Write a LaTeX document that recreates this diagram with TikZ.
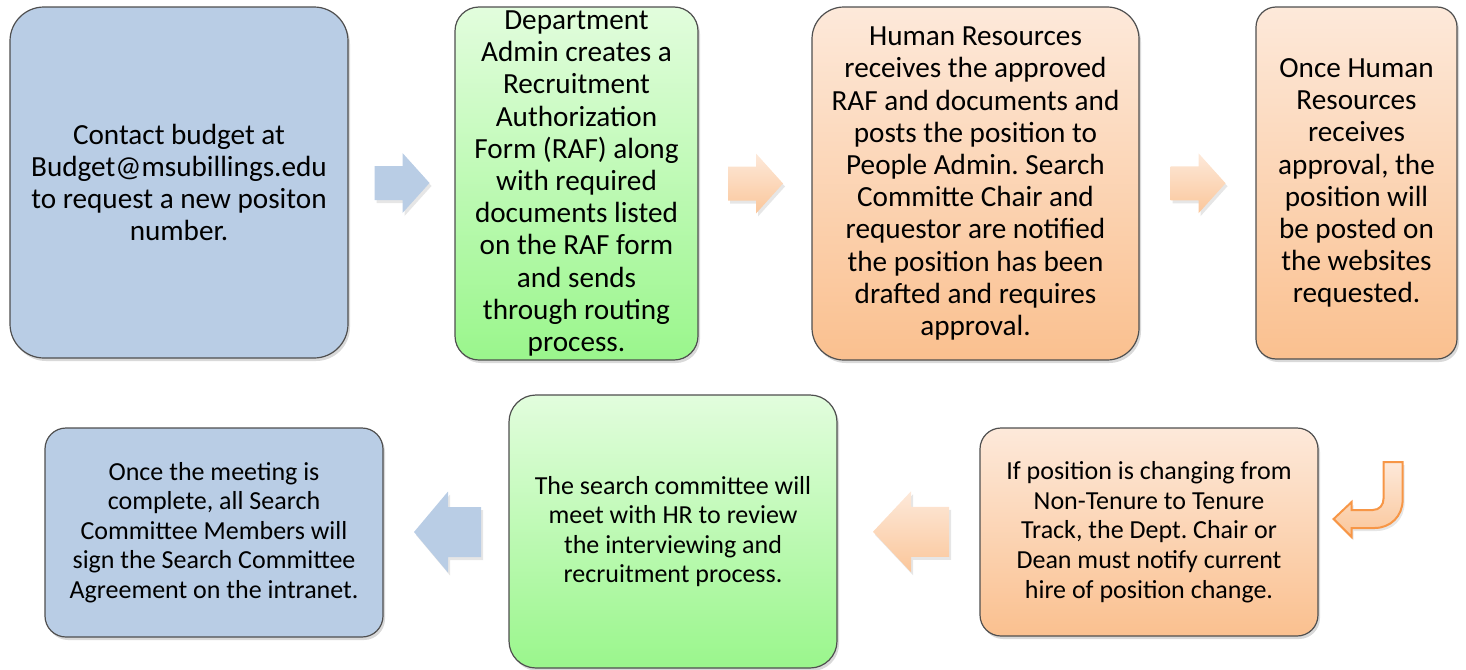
\documentclass[tikz,border=0pt]{standalone}
\usepackage{fontspec}
\setmainfont{Carlito}
\usepackage{tikz}
\usetikzlibrary{calc, shadows}
\usepackage{xcolor}
\frenchspacing

\definecolor{boxblue}{HTML}{B9CDE5}
\definecolor{boxline}{HTML}{4F4F4F}
\definecolor{greentop}{HTML}{E2FDDD}
\definecolor{greenbot}{HTML}{9AF68C}
\definecolor{orangetop}{HTML}{FDE9DA}
\definecolor{orangebot}{HTML}{FAC08F}
\definecolor{arrowline}{HTML}{F79646}

\tikzset{
  stepbox/.style={draw=boxline, line width=0.6pt, align=center, inner sep=0pt,
    drop shadow={opacity=0.3, shadow xshift=1pt, shadow yshift=-1.5pt}},
  toprow/.style={stepbox, font=\fontsize{14.6}{16.1}\selectfont},
  lowrow/.style={stepbox, font=\fontsize{13}{14.8}\selectfont},
  bluebox/.style={fill=boxblue},
  greenbox/.style={top color=greentop, bottom color=greenbot},
  orangebox/.style={top color=orangetop, bottom color=orangebot},
  bluearrow/.style={fill=boxblue, drop shadow={opacity=0.2, shadow xshift=1pt, shadow yshift=-1.5pt}},
  orangearrow/.style={top color=orangetop, bottom color=orangebot!90, drop shadow={opacity=0.2, shadow xshift=1pt, shadow yshift=-1.5pt}}
}

\begin{document}
\begin{tikzpicture}[x=0.5pt, y=-0.5pt]
\useasboundingbox (0,0) rectangle (1466,669);

% top row
\node[toprow, bluebox, minimum width=169pt, minimum height=175.5pt, rounded corners=17pt] (budget) at (179,182.5)
  {Contact budget at\\Budget@msubillings.edu\\to request a new positon\\number.};
\node[toprow, greenbox, minimum width=121.5pt, minimum height=176.5pt, rounded corners=12pt] (raf) at (576.5,183.5)
  {Department\\Admin creates a\\Recruitment\\Authorization\\Form (RAF) along\\with required\\documents listed\\on the RAF form\\and sends\\through routing\\process.};
\node[toprow, orangebox, minimum width=163.5pt, minimum height=176.5pt, rounded corners=16pt] (hrpost) at (975.5,183.5)
  {Human Resources\\receives the approved\\RAF and documents and\\posts the position to\\People Admin. Search\\Committe Chair and\\requestor are notified\\the position has been\\drafted and requires\\approval.};
\node[toprow, orangebox, minimum width=100.5pt, minimum height=176pt, rounded corners=10pt] (website) at (1356.5,183)
  {Once Human\\Resources\\receives\\approval, the\\position will\\be posted on\\the websites\\requested.};

% bottom row
\node[lowrow, orangebox, minimum width=169pt, minimum height=104pt, rounded corners=10.5pt] (tenure) at (1149,532)
  {If position is changing from\\Non-Tenure to Tenure\\Track, the Dept. Chair or\\Dean must notify current\\hire of position change.};
\node[lowrow, greenbox, minimum width=164pt, minimum height=136.5pt, rounded corners=13.5pt] (meeting) at (673,531.5)
  {The search committee will\\meet with HR to review\\the interviewing and\\recruitment process.};
\node[lowrow, bluebox, minimum width=169pt, minimum height=104.5pt, rounded corners=10.5pt] (signoff) at (214,532.5)
  {Once the meeting is\\complete, all Search\\Committee Members will\\sign the Search Committee\\Agreement on the intranet.};

% block arrows
\begin{scope}[shift={($(budget.east)!0.5!(raf.west)$)}]
  \path[bluearrow] (-27,-17) -- ++(28,0) -- ++(0,-13) -- ++(27,30) -- ++(-27,30) -- ++(0,-13) -- ++(-28,0) -- cycle;
\end{scope}
\begin{scope}[shift={($(raf.east)!0.5!(hrpost.west)$)}]
  \path[orangearrow] (-27,-17) -- ++(28,0) -- ++(0,-13) -- ++(27,30) -- ++(-27,30) -- ++(0,-13) -- ++(-28,0) -- cycle;
\end{scope}
\begin{scope}[shift={($(hrpost.east)!0.5!(website.west)$)}]
  \path[orangearrow] (-27,-17) -- ++(28,0) -- ++(0,-13) -- ++(27,30) -- ++(-27,30) -- ++(0,-13) -- ++(-28,0) -- cycle;
\end{scope}
\begin{scope}[shift={($(meeting.east)!0.5!(tenure.west)$)}]
  \path[orangearrow] (40.5,-25) -- ++(-38,0) -- ++(0,-15.5) -- ++(-38,40.5) -- ++(38,40.5) -- ++(0,-15.5) -- ++(38,0) -- cycle;
\end{scope}
\begin{scope}[shift={($(signoff.east)!0.5!(meeting.west)$)}]
  \path[bluearrow] (35,-25) -- ++(-33,0) -- ++(0,-15.5) -- ++(-34,40.5) -- ++(34,40.5) -- ++(0,-15.5) -- ++(33,0) -- cycle;
\end{scope}

% turn arrow from the top row down into the bottom row
\begin{scope}[shift={(tenure.east)}]
  \path[orangearrow, draw=arrowline, line width=1pt] (65,-70) -- (84,-70) -- (84,-32)
    .. controls (84,-16) and (72,-4) .. (56,-4) -- (33,-4) -- (33,5) -- (15,-13) -- (33,-30) -- (33,-22) -- (54,-22)
    .. controls (61,-22) and (65,-27) .. (65,-34) -- cycle;
\end{scope}

\end{tikzpicture}
\end{document}
